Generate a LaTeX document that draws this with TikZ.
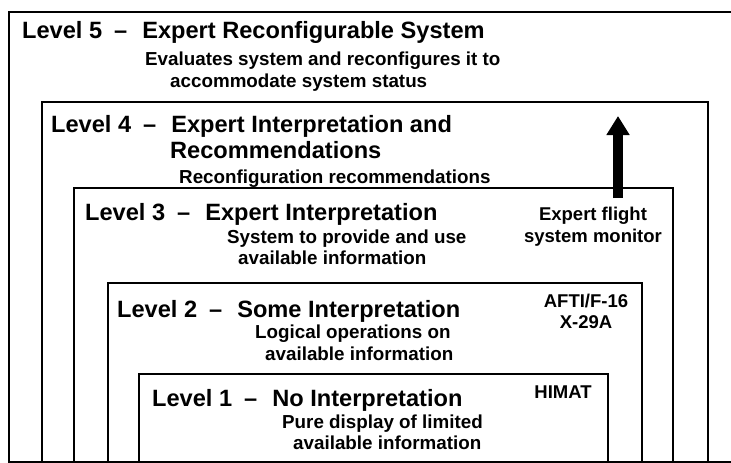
\documentclass[tikz,border=0pt]{standalone}
\usepackage{fontspec}
\setmainfont{Liberation Sans}
\usepackage{tikz}
\usetikzlibrary{arrows.meta, positioning}

\newcommand{\lvdash}{\hspace{12pt}--\hspace{15pt}}

\begin{document}
\begin{tikzpicture}[x=1pt, y=-1pt]

			\tikzstyle{lvbox}=[draw=black, line width=1.6pt]
			\tikzstyle{lvtitle}=[anchor=base west, inner sep=0pt, font=\fontsize{23.6}{26}\selectfont\bfseries]
			\tikzstyle{lvtext}=[anchor=base west, inner sep=0pt, font=\fontsize{18.8}{21}\selectfont\bfseries]
			\tikzstyle{lvside}=[anchor=base, inner sep=0pt, font=\fontsize{18.5}{21}\selectfont\bfseries]

			\useasboundingbox (0,0) rectangle (731,463);
			\fill[white] (0,0) rectangle (731,463);

			%% nested level boxes, open to the right and bottom of the page
			\draw [lvbox] (9,12) rectangle (740,462);
			\draw [lvbox] (42,102) rectangle (708,462);
			\draw [lvbox] (74,188) rectangle (673,462);
			\draw [lvbox] (108,283) rectangle (642,462);
			\draw [lvbox] (139,374) rectangle (608,462);

			%% level 5
			\node (t5) at (22,38) [lvtitle] {Level 5\lvdash Expert Reconfigurable System};
			\node (d5a) at (145,65) [lvtext] {Evaluates system and reconfigures it to};
			\node (d5b) at (170,87) [lvtext] {accommodate system status};

			%% level 4
			\node (t4a) at (51,132) [lvtitle] {Level 4\lvdash Expert Interpretation and};
			\node (t4b) at (170,158) [lvtitle] {Recommendations};
			\node (d4) at (179,183) [lvtext] {Reconfiguration recommendations};

			%% level 3
			\node (t3) at (85,220) [lvtitle] {Level 3\lvdash Expert Interpretation};
			\node (d3a) at (227,243) [lvtext] {System to provide and use};
			\node (d3b) at (238,264) [lvtext] {available information};
			\node (m3a) at (593,220) [lvside] {Expert flight};
			\node (m3b) at (593,242) [lvside] {system monitor};

			%% level 2
			\node (t2) at (117,317) [lvtitle] {Level 2\lvdash Some Interpretation};
			\node (d2a) at (255,338) [lvtext] {Logical operations on};
			\node (d2b) at (265,360) [lvtext] {available information};
			\node (m2a) at (586,307) [lvside] {AFTI/F-16};
			\node (m2b) at (586,328) [lvside] {X-29A};

			%% level 1
			\node (t1) at (152,406) [lvtitle] {Level 1\lvdash No Interpretation};
			\node (d1a) at (282,428) [lvtext] {Pure display of limited};
			\node (d1b) at (293,449) [lvtext] {available information};
			\node (m1) at (563,398) [lvside] {HIMAT};

			%% upward arrow
			\coordinate (up0) at (618,198);
			\coordinate (up1) at (618,116);
			\draw [line width=10pt, -{Triangle[width=22pt, length=19pt]}] (up0) -- (up1);

\end{tikzpicture}
\end{document}
